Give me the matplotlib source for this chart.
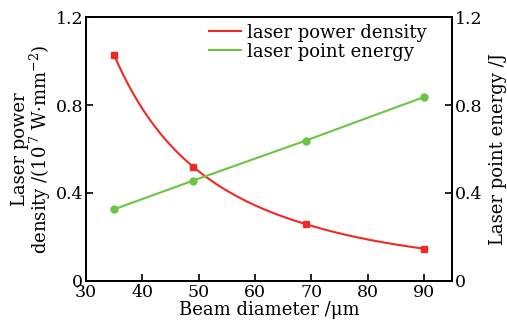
import numpy as np
import matplotlib
matplotlib.use("Agg")
import matplotlib.pyplot as plt
from matplotlib.lines import Line2D

beam_diameter = [35, 49, 69, 90]
power_density = [1.027, 0.52, 0.259, 0.147]
point_energy = [0.326, 0.456, 0.638, 0.836]
yticks = [0, 0.4, 0.8, 1.2]
ytick_labels = ["0", "0.4", "0.8", "1.2"]
xticks = [30, 40, 50, 60, 70, 80, 90]

plt.rcParams['font.family'] = ['DejaVu Serif']
plt.rcParams['mathtext.fontset'] = 'dejavuserif'
FS = 12.5
LFS = 13

red = '#f02a22'
green = '#6cc440'

fig = plt.figure(figsize=(5.07, 3.36), dpi=100)
ax = fig.add_axes([0.1696, 0.1637, 0.8915 - 0.1696, 0.9494 - 0.1637])
ax2 = ax.twinx()

# smooth drawing of the power-density line: piecewise power law between data points
x = np.array(beam_diameter, float)
y = np.array(power_density, float)
xs, ys = [], []
for i in range(len(x) - 1):
    k = np.log(y[i + 1] / y[i]) / np.log(x[i + 1] / x[i])
    seg = np.linspace(x[i], x[i + 1], 40)
    xs.append(seg)
    ys.append(y[i] * (seg / x[i]) ** k)
ax.plot(np.concatenate(xs), np.concatenate(ys), color=red, lw=1.5)
ax.plot(beam_diameter, power_density, ls='none', marker='s', ms=5, color=red)

ax2.plot(beam_diameter, point_energy, color=green, lw=1.5, marker='o', ms=5)

for a in (ax, ax2):
    a.set_ylim(0, 1.2)
    a.set_yticks(yticks)
    a.set_yticklabels(ytick_labels)
    for s in a.spines.values():
        s.set_linewidth(1.3)
ax.set_xlim(30, 95)
ax.set_xticks(xticks)
ax.tick_params(axis='both', direction='in', length=5, width=1.2, labelsize=FS, pad=2)
ax2.tick_params(axis='y', direction='in', length=5, width=1.2, labelsize=FS, pad=2)

ax.set_xlabel('Beam diameter /μm', fontsize=LFS, labelpad=0)
ax.set_ylabel('Laser power\ndensity /(10$^{\\,7}$ W·mm$^{-2}$)', fontsize=LFS, labelpad=2,
              linespacing=0.95)
ax2.set_ylabel('Laser point energy /J', fontsize=LFS, labelpad=5)

handles = [Line2D([], [], color=red, lw=1.5), Line2D([], [], color=green, lw=1.5)]
ax2.legend(handles, ['laser power density', 'laser point energy'],
           loc='upper left', bbox_to_anchor=(0.336, 0.975),
           frameon=False, fontsize=LFS, handlelength=1.75, handletextpad=0.35,
           labelspacing=0.05, borderaxespad=0, borderpad=0)

fig.savefig('out.png', dpi=100)
